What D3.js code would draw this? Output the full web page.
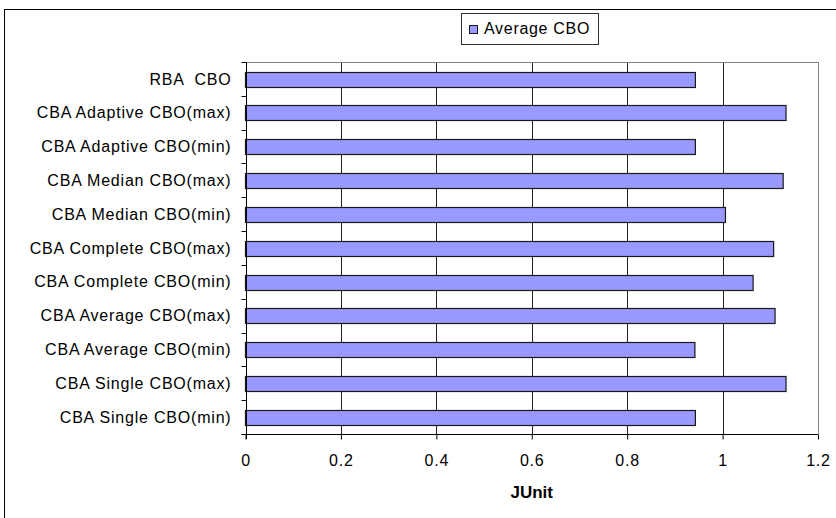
<!DOCTYPE html>
<html>
<head>
<meta charset="utf-8">
<script src="https://cdn.jsdelivr.net/npm/d3@7"></script>
<style>
  html, body { margin: 0; padding: 0; background: #fff; }
  svg { display: block; font-family: "Liberation Sans", Arial, sans-serif; }
  svg text { white-space: pre; }
</style>
</head>
<body>
<svg id="chart" width="836" height="518"></svg>
<script>
// Categories listed top to bottom
const categories = [
  "RBA  CBO",
  "CBA Adaptive CBO(max)",
  "CBA Adaptive CBO(min)",
  "CBA Median CBO(max)",
  "CBA Median CBO(min)",
  "CBA Complete CBO(max)",
  "CBA Complete CBO(min)",
  "CBA Average CBO(max)",
  "CBA Average CBO(min)",
  "CBA Single CBO(max)",
  "CBA Single CBO(min)"
];
const averageCBO = [0.943, 1.133, 0.943, 1.127, 1.006, 1.107, 1.064, 1.110, 0.942, 1.133, 0.943];
const xTicks = [0, 0.2, 0.4, 0.6, 0.8, 1, 1.2];
const seriesName = "Average CBO";
const xTitle = "JUnit";

const svg = d3.select("#chart");
const plot = { left: 245.5, right: 818, top: 62, bottom: 434 };
const labelFont = 16;
const labelSpacing = 0.8;

// Outer chart frame
svg.append("rect")
  .attr("x", 4.5).attr("y", 9.5)
  .attr("width", 900).attr("height", 600)
  .attr("fill", "#fff").attr("stroke", "#000").attr("stroke-width", 1);

const x = d3.scaleLinear().domain([0, 1.2]).range([plot.left, plot.right]);
const y = d3.scaleBand().domain(categories).range([plot.top, plot.bottom]).paddingInner(0.57).paddingOuter(0.285);
const yb = d3.scaleBand().domain(categories).range([plot.top, plot.bottom]);

// Vertical gridlines
svg.append("g").selectAll("line").data(xTicks.slice(1))
  .join("line")
  .attr("x1", d => Math.round(x(d)) + 0.5).attr("x2", d => Math.round(x(d)) + 0.5)
  .attr("y1", plot.top).attr("y2", plot.bottom)
  .attr("stroke", d => d === 1.2 ? "#808080" : "#222").attr("stroke-width", 1);

// Plot area top border
svg.append("line")
  .attr("x1", plot.left).attr("x2", Math.round(plot.right) + 0.5)
  .attr("y1", plot.top + 0.5).attr("y2", plot.top + 0.5)
  .attr("stroke", "#808080");

// Bars
svg.append("g").selectAll("rect").data(categories)
  .join("rect")
  .attr("x", x(0))
  .attr("y", d => Math.round(y(d)) + 0.5)
  .attr("width", (d, i) => x(averageCBO[i]) - x(0))
  .attr("height", Math.round(y.bandwidth()))
  .attr("fill", "#9999FF")
  .attr("stroke", "#1a1a1a")
  .attr("stroke-width", 1.2);

// Y axis
const yAxisG = svg.append("g").attr("transform", `translate(${Math.round(plot.left) + 0.5},0)`);
yAxisG.append("line").attr("y1", plot.top).attr("y2", plot.bottom + 5).attr("stroke", "#000");
yAxisG.selectAll("line.tk").data(categories.concat(["__end"]))
  .join("line").attr("class", "tk")
  .attr("x1", -5).attr("x2", 0)
  .attr("y1", (d, i) => Math.round(plot.top + i * yb.step()) + 0.5)
  .attr("y2", (d, i) => Math.round(plot.top + i * yb.step()) + 0.5)
  .attr("stroke", "#000");
yAxisG.selectAll("text").data(categories)
  .join("text")
  .attr("x", -15)
  .attr("y", d => yb(d) + yb.bandwidth() / 2)
  .attr("dy", "0.35em")
  .attr("text-anchor", "end")
  .attr("font-size", labelFont)
  .attr("letter-spacing", labelSpacing)
  .attr("fill", "#000")
  .text(d => d);

// X axis
const xAxis = d3.axisBottom(x).tickValues(xTicks).tickSize(5).tickPadding(10)
  .tickFormat(d => d3.format("")(d));
const xAxisG = svg.append("g").attr("transform", `translate(0,${plot.bottom + 0.5})`).call(xAxis);
xAxisG.select(".domain").attr("stroke", "#000").attr("d", `M${plot.left},0H${plot.right}`);
xAxisG.selectAll(".tick line").attr("stroke", "#000");
xAxisG.selectAll(".tick text")
  .attr("y", 31.5).attr("dy", null)
  .attr("font-size", labelFont).attr("letter-spacing", labelSpacing).attr("fill", "#000")
  .attr("font-family", "'Liberation Sans', Arial, sans-serif");

// X axis title
svg.append("text")
  .attr("x", (plot.left + plot.right) / 2).attr("y", 498)
  .attr("text-anchor", "middle")
  .attr("font-size", 17).attr("font-weight", "bold")
  .text(xTitle);

// Legend
const lg = svg.append("g");
lg.append("rect").attr("x", 461.5).attr("y", 13.5).attr("width", 137).attr("height", 31)
  .attr("fill", "#fff").attr("stroke", "#333");
lg.append("rect").attr("x", 469.5).attr("y", 25.5).attr("width", 8).attr("height", 8)
  .attr("fill", "#9999FF").attr("stroke", "#1a1a1a");
lg.append("text").attr("x", 484).attr("y", 34)
  .attr("font-size", labelFont).attr("letter-spacing", 0.7).text(seriesName);
</script>
</body>
</html>
